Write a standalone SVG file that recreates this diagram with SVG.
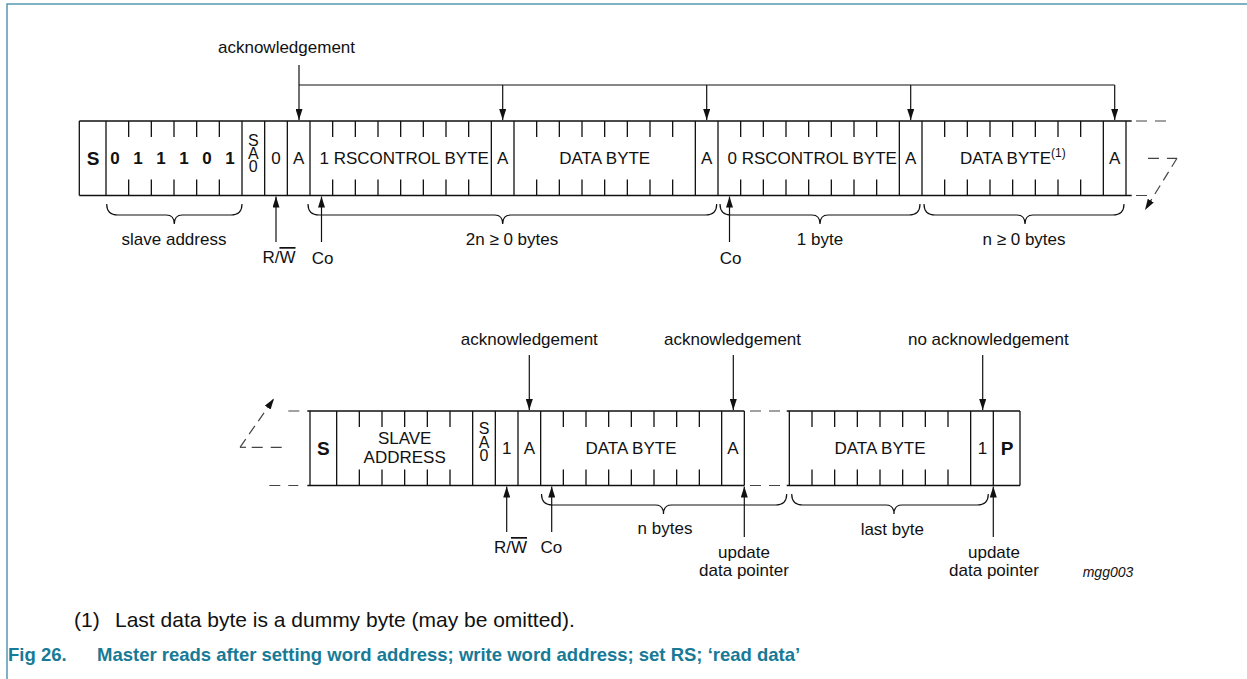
<svg xmlns="http://www.w3.org/2000/svg" width="1247" height="679" viewBox="0 0 1247 679">
<style>
.t{font-family:"Liberation Sans",Arial,Helvetica,sans-serif;font-size:17px;fill:#111}
.c{text-anchor:middle}
.b{font-weight:bold}
.sm{font-size:16px}
.bx{stroke:#111;stroke-width:1.3;fill:none}
.cn{stroke:#111;stroke-width:1.2;fill:none}
.ds{stroke:#444;stroke-width:1.2;fill:none;stroke-dasharray:11 8}
.frame{stroke:#5796b0;stroke-width:1.5;fill:none}
.cap{font-family:"Liberation Sans",Arial,Helvetica,sans-serif;font-size:18.5px;font-weight:bold;fill:#177a96}
.fn{font-family:"Liberation Sans",Arial,Helvetica,sans-serif;font-size:21px;fill:#111}
</style>
<defs>
<marker id="ah" viewBox="0 0 11 7" refX="11" refY="3.5" markerWidth="11" markerHeight="7" markerUnits="userSpaceOnUse" orient="auto">
<path d="M0,0 L11,3.5 L0,7 z" fill="#111"/>
</marker>
</defs>
<rect width="1247" height="679" fill="#fff"/>
<path class="frame" d="M7,679 V4 H1247"/>

<!-- Row 1 -->
<g id="row1">
<path class="bx" d="M79.3,121 H1131.7 M79.3,195.5 H1131.7"/>
<g id="r1-start"><path class="bx" d="M79.3,121 V195.5 M106,121 V195.5"/><text class="t b c" x="93" y="165" style="font-size:19px">S</text></g>
<g id="r1-slave">
<path class="bx" d="M242,121 V195.5 M128.67,121 V137 M151.33,121 V137 M174,121 V137 M196.67,121 V137 M219.33,121 V137 M128.67,195.5 V179.5 M151.33,195.5 V179.5 M174,195.5 V179.5 M196.67,195.5 V179.5 M219.33,195.5 V179.5"/>
<text class="t b c" y="164"><tspan x="115">0</tspan><tspan x="138">1</tspan><tspan x="161">1</tspan><tspan x="184">1</tspan><tspan x="207">0</tspan><tspan x="230">1</tspan></text>
</g>
<g id="r1-sa0"><path class="bx" d="M264.67,121 V195.5"/><text class="t c sm"><tspan x="253.3" y="146">S</tspan><tspan x="253.3" y="159">A</tspan><tspan x="253.3" y="172">0</tspan></text></g>
<g id="r1-rw"><path class="bx" d="M287.33,121 V195.5"/><text class="t c" x="276" y="164">0</text></g>
<g id="r1-a1"><path class="bx" d="M310,121 V195.5"/><text class="t c" x="298.7" y="164">A</text></g>
<g id="r1-ctrl1">
<path class="bx" d="M491.33,121 V195.5 M332.67,121 V137 M355.33,121 V137 M378,121 V137 M400.67,121 V137 M423.33,121 V137 M446,121 V137 M468.67,121 V137 M332.67,195.5 V179.5 M355.33,195.5 V179.5 M378,195.5 V179.5 M400.67,195.5 V179.5 M423.33,195.5 V179.5 M446,195.5 V179.5 M468.67,195.5 V179.5"/>
<text class="t" x="319.5" y="164">1 RSCONTROL BYTE</text>
</g>
<g id="r1-a2"><path class="bx" d="M514,121 V195.5"/><text class="t c" x="502.7" y="164">A</text></g>
<g id="r1-data1">
<path class="bx" d="M695.33,121 V195.5 M536.67,121 V137 M559.33,121 V137 M582,121 V137 M604.67,121 V137 M627.33,121 V137 M650,121 V137 M672.67,121 V137 M536.67,195.5 V179.5 M559.33,195.5 V179.5 M582,195.5 V179.5 M604.67,195.5 V179.5 M627.33,195.5 V179.5 M650,195.5 V179.5 M672.67,195.5 V179.5"/>
<text class="t c" x="604.7" y="164">DATA BYTE</text>
</g>
<g id="r1-a3"><path class="bx" d="M718,121 V195.5"/><text class="t c" x="706.7" y="164">A</text></g>
<g id="r1-ctrl2">
<path class="bx" d="M899.33,121 V195.5 M740.67,121 V137 M763.33,121 V137 M786,121 V137 M808.67,121 V137 M831.33,121 V137 M854,121 V137 M876.67,121 V137 M740.67,195.5 V179.5 M763.33,195.5 V179.5 M786,195.5 V179.5 M808.67,195.5 V179.5 M831.33,195.5 V179.5 M854,195.5 V179.5 M876.67,195.5 V179.5"/>
<text class="t" x="727.5" y="164">0 RSCONTROL BYTE</text>
</g>
<g id="r1-a4"><path class="bx" d="M922,121 V195.5"/><text class="t c" x="910.7" y="164">A</text></g>
<g id="r1-data2">
<path class="bx" d="M1103.33,121 V195.5 M944.67,121 V137 M967.33,121 V137 M990,121 V137 M1012.67,121 V137 M1035.33,121 V137 M1058,121 V137 M1080.67,121 V137 M944.67,195.5 V179.5 M967.33,195.5 V179.5 M990,195.5 V179.5 M1012.67,195.5 V179.5 M1035.33,195.5 V179.5 M1058,195.5 V179.5 M1080.67,195.5 V179.5"/>
<text class="t" x="960" y="164">DATA BYTE<tspan dy="-7" style="font-size:12px">(1)</tspan></text>
</g>
<g id="r1-a5"><path class="bx" d="M1126,121 V195.5"/><text class="t c" x="1114.7" y="164">A</text></g>
</g>

<!-- Row 2 -->
<g id="row2">
<path class="bx" d="M307.3,411 H744.3 M307.3,485.5 H744.3 M786.7,411 H1020 M786.7,485.5 H1020"/>
<g id="r2-start"><path class="bx" d="M310,411 V485.5 M336.67,411 V485.5"/><text class="t b c" x="323.3" y="455" style="font-size:19px">S</text></g>
<g id="r2-slave">
<path class="bx" d="M472.67,411 V485.5 M359.33,411 V427 M382,411 V427 M404.67,411 V427 M427.33,411 V427 M450,411 V427 M359.33,485.5 V469.5 M382,485.5 V469.5 M404.67,485.5 V469.5 M427.33,485.5 V469.5 M450,485.5 V469.5"/>
<text class="t c"><tspan x="404.7" y="444">SLAVE</tspan><tspan x="404.7" y="463">ADDRESS</tspan></text>
</g>
<g id="r2-sa0"><path class="bx" d="M495.33,411 V485.5"/><text class="t c sm"><tspan x="484" y="434">S</tspan><tspan x="484" y="447.5">A</tspan><tspan x="484" y="461">0</tspan></text></g>
<g id="r2-rw"><path class="bx" d="M518,411 V485.5"/><text class="t c" x="506.7" y="454">1</text></g>
<g id="r2-a1"><path class="bx" d="M540.67,411 V485.5"/><text class="t c" x="529.3" y="454">A</text></g>
<g id="r2-data1">
<path class="bx" d="M721.67,411 V485.5 M563.33,411 V427 M586,411 V427 M608.67,411 V427 M631.33,411 V427 M654,411 V427 M676.67,411 V427 M699.33,411 V427 M563.33,485.5 V469.5 M586,485.5 V469.5 M608.67,485.5 V469.5 M631.33,485.5 V469.5 M654,485.5 V469.5 M676.67,485.5 V469.5 M699.33,485.5 V469.5"/>
<text class="t c" x="631" y="454">DATA BYTE</text>
</g>
<g id="r2-a2"><path class="bx" d="M744.33,411 V485.5"/><text class="t c" x="733" y="454">A</text></g>
<g id="r2-data2">
<path class="bx" d="M789.33,411 V485.5 M970.67,411 V485.5 M812,411 V427 M834.67,411 V427 M857.33,411 V427 M880,411 V427 M902.67,411 V427 M925.33,411 V427 M948,411 V427 M812,485.5 V469.5 M834.67,485.5 V469.5 M857.33,485.5 V469.5 M880,485.5 V469.5 M902.67,485.5 V469.5 M925.33,485.5 V469.5 M948,485.5 V469.5"/>
<text class="t c" x="880" y="454">DATA BYTE</text>
</g>
<g id="r2-nack"><path class="bx" d="M993.33,411 V485.5"/><text class="t c" x="982.5" y="454">1</text></g>
<g id="r2-stop"><path class="bx" d="M1020,411 V485.5"/><text class="t b c" x="1007" y="455" style="font-size:19px">P</text></g>
</g>

<!-- Connectors -->
<g id="connectors">
<path class="cn" d="M299,65 V120" marker-end="url(#ah)"/>
<path class="cn" d="M299,85 H1114.7"/>
<path class="cn" d="M502.7,85 V120" marker-end="url(#ah)"/>
<path class="cn" d="M706.7,85 V120" marker-end="url(#ah)"/>
<path class="cn" d="M910.7,85 V120" marker-end="url(#ah)"/>
<path class="cn" d="M1114.7,85 V120" marker-end="url(#ah)"/>
<path class="cn" d="M276,242 V196.5" marker-end="url(#ah)"/>
<path class="cn" d="M321.5,242 V196.5" marker-end="url(#ah)"/>
<path class="cn" d="M729.5,242 V196.5" marker-end="url(#ah)"/>
<path class="ds" d="M1136,121 H1167 M1136,195.5 H1148 M1148,158.3 H1177"/>
<path class="ds" d="M1177,158.3 L1145,210" style="stroke-dasharray:10 6" marker-end="url(#ah)"/>
<path class="cn" d="M529.3,355 V410" marker-end="url(#ah)"/>
<path class="cn" d="M733.3,355 V410" marker-end="url(#ah)"/>
<path class="cn" d="M982.7,355 V410" marker-end="url(#ah)"/>
<path class="cn" d="M506.7,532 V486.5" marker-end="url(#ah)"/>
<path class="cn" d="M551.7,532 V486.5" marker-end="url(#ah)"/>
<path class="cn" d="M744.3,537 V486.5" marker-end="url(#ah)"/>
<path class="cn" d="M993.3,537 V486.5" marker-end="url(#ah)"/>
<path class="ds" d="M750,411 H781 M750,485.5 H781 M288.3,411 H300 M269.3,485.5 H298.3 M251.7,447.3 H285"/>
<path class="ds" d="M240,447.3 L274,398.5" style="stroke-dasharray:10 6" marker-end="url(#ah)"/>
<path class="ds" d="M240,447.3 H246" style="stroke-dasharray:none"/>
<path class="cn" d="M106.7,204 Q106.7,215 117.7,215 L166.3,215 Q174.3,215 174.3,224 Q174.3,215 182.3,215 L231,215 Q242,215 242,204"/>
<path class="cn" d="M308,204 Q308,215 319,215 L494.7,215 Q502.7,215 502.7,224 Q502.7,215 510.7,215 L705.7,215 Q716.7,215 716.7,204"/>
<path class="cn" d="M720,204 Q720,215 731,215 L812,215 Q820,215 820,224 Q820,215 828,215 L909,215 Q920,215 920,204"/>
<path class="cn" d="M924,204 Q924,215 935,215 L1017,215 Q1025,215 1025,224 Q1025,215 1033,215 L1113,215 Q1124,215 1124,204"/>
<path class="cn" d="M541.5,494 Q541.5,505 552.5,505 L655.5,505 Q663.5,505 663.5,514 Q663.5,505 671.5,505 L775.7,505 Q786.7,505 786.7,494"/>
<path class="cn" d="M791.7,494 Q791.7,505 802.7,505 L886,505 Q894,505 894,514 Q894,505 902,505 L977.3,505 Q988.3,505 988.3,494"/>
</g>

<!-- Labels -->
<g id="labels">
<text class="t" x="218" y="53">acknowledgement</text>
<text class="t c" x="174" y="245">slave address</text>
<text class="t c" x="512" y="245">2n ≥ 0 bytes</text>
<text class="t c" x="820" y="245">1 byte</text>
<text class="t c" x="1024" y="245">n ≥ 0 bytes</text>
<text class="t c" x="279" y="263">R/<tspan style="text-decoration:overline">W</tspan></text>
<text class="t c" x="322.5" y="264">Co</text>
<text class="t c" x="730.5" y="264">Co</text>
<text class="t c" x="529.3" y="345">acknowledgement</text>
<text class="t c" x="732.5" y="345">acknowledgement</text>
<text class="t c" x="988.3" y="345">no acknowledgement</text>
<text class="t c" x="510.5" y="553">R/<tspan style="text-decoration:overline">W</tspan></text>
<text class="t c" x="551.3" y="553">Co</text>
<text class="t c" x="665" y="534">n bytes</text>
<text class="t c" x="892.3" y="535">last byte</text>
<text class="t c"><tspan x="744" y="558">update</tspan><tspan x="744" y="576">data pointer</tspan></text>
<text class="t c"><tspan x="994" y="558">update</tspan><tspan x="994" y="576">data pointer</tspan></text>
<text class="t" x="1082.7" y="577" style="font-size:14px;font-style:italic">mgg003</text>
</g>

<g id="notes">
<text class="fn"><tspan x="74" y="627">(1)</tspan><tspan x="115" y="627">Last data byte is a dummy byte (may be omitted).</tspan></text>
<text class="cap"><tspan x="8" y="661">Fig 26.</tspan><tspan x="97" y="661">Master reads after setting word address; write word address; set RS; ‘read data’</tspan></text>
</g>
</svg>
